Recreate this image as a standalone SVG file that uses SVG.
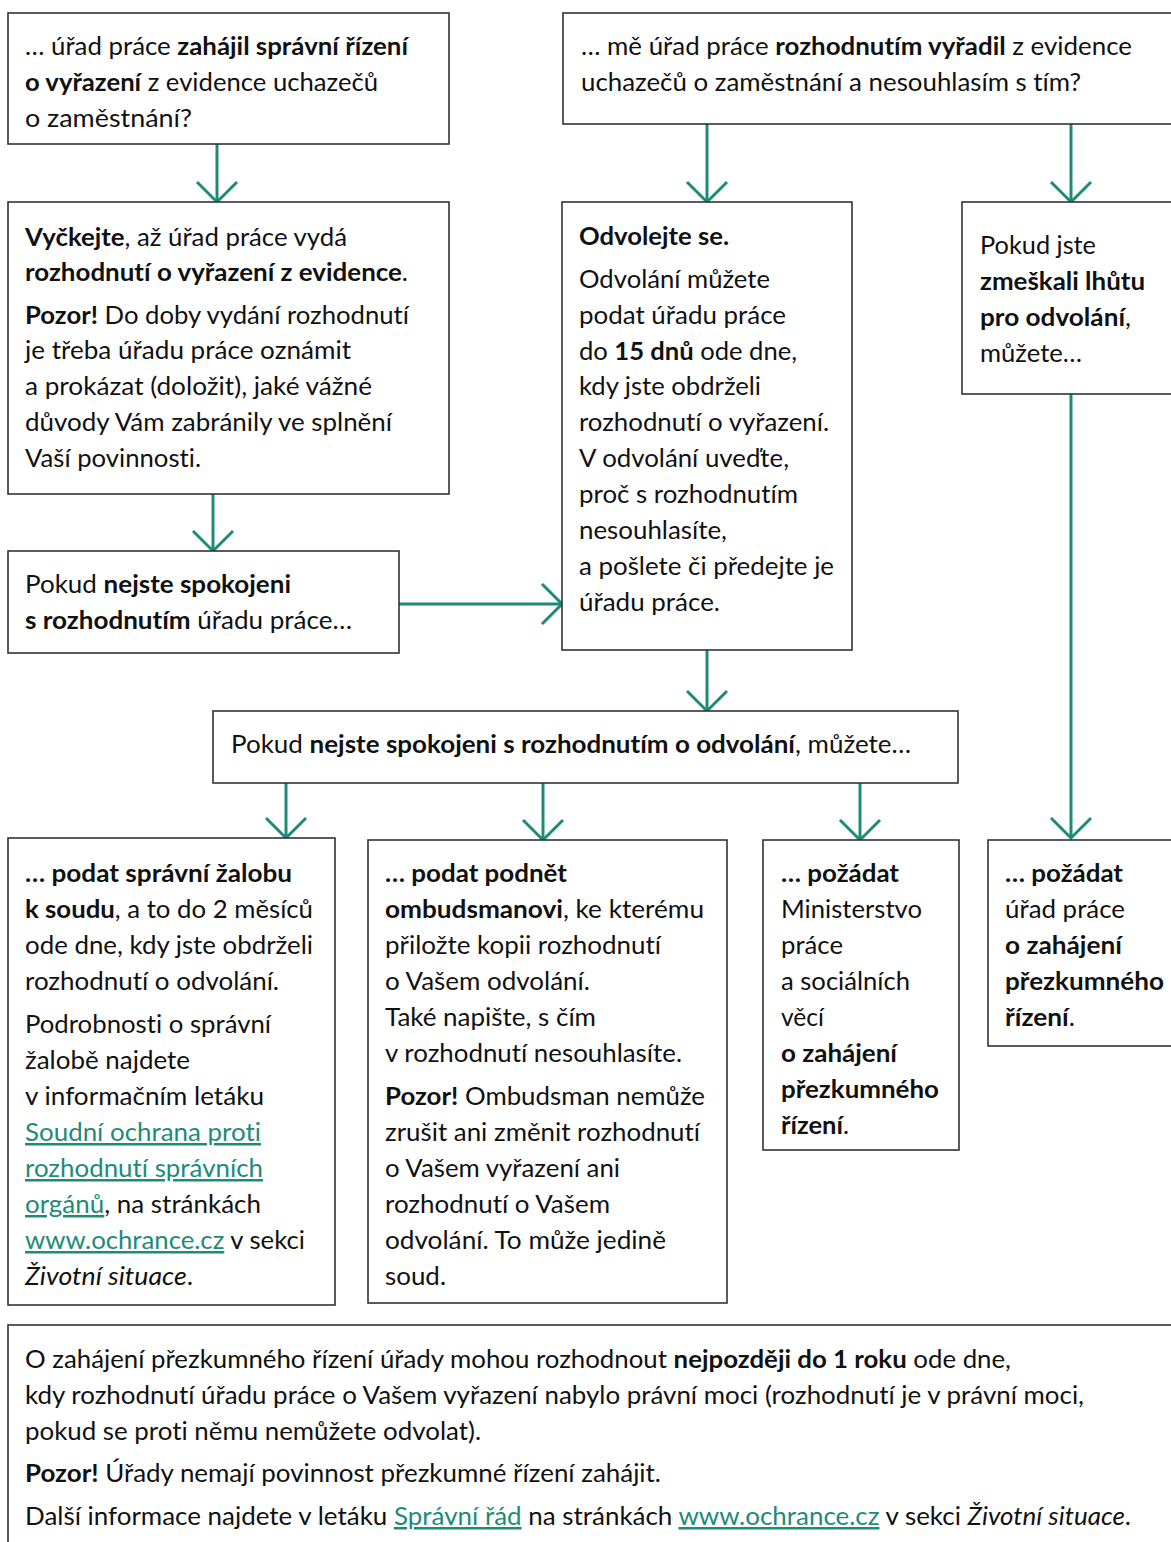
<svg xmlns="http://www.w3.org/2000/svg" width="1171" height="1542" viewBox="0 0 1171 1542">
<style>
.t{font-family:Lato,"Open Sans","Liberation Sans",sans-serif;font-size:25px;fill:#111;font-variant-ligatures:none}
.b{font-weight:bold}
.i{font-style:italic}
.l{fill:#1d8b78;text-decoration:underline}
.box{fill:#fff;stroke:#333;stroke-width:1.6}
.arr{stroke:#1d8b78;stroke-width:3;fill:none;marker-end:url(#ah)}
</style>
<defs>
<marker id="ah" markerUnits="userSpaceOnUse" viewBox="-24 -24 48 48" markerWidth="48" markerHeight="48" refX="0" refY="0" orient="auto" overflow="visible">
<path d="M-20,-20 L0,0 L-20,20" fill="none" stroke="#1d8b78" stroke-width="3"/>
</marker>
</defs>
<rect width="1171" height="1542" fill="#fff"/>
<g id="connectors">
<line class="arr" x1="217" y1="144" x2="217" y2="202"/>
<line class="arr" x1="707" y1="124" x2="707" y2="202"/>
<line class="arr" x1="1071" y1="124" x2="1071" y2="202"/>
<line class="arr" x1="213" y1="494" x2="213" y2="551"/>
<line class="arr" x1="399" y1="604" x2="562" y2="604"/>
<line class="arr" x1="707" y1="650" x2="707" y2="711"/>
<line class="arr" x1="1071" y1="394" x2="1071" y2="838"/>
<line class="arr" x1="286" y1="783" x2="286" y2="838"/>
<line class="arr" x1="543" y1="783" x2="543" y2="840"/>
<line class="arr" x1="860" y1="783" x2="860" y2="840"/>
</g>
<g id="n1">
<rect class="box" x="8" y="13" width="441" height="131"/>
<text class="t" x="25" y="55" textLength="383" lengthAdjust="spacingAndGlyphs">… úřad práce <tspan class="b">zahájil správní řízení</tspan></text>
<text class="t" x="25" y="91" textLength="353" lengthAdjust="spacingAndGlyphs"><tspan class="b">o vyřazení</tspan> z evidence uchazečů</text>
<text class="t" x="25" y="127" textLength="167" lengthAdjust="spacingAndGlyphs">o zaměstnání?</text>
</g>
<g id="n2">
<rect class="box" x="563" y="13" width="700" height="111"/>
<text class="t" x="581" y="55" textLength="551" lengthAdjust="spacingAndGlyphs">… mě úřad práce <tspan class="b">rozhodnutím vyřadil</tspan> z evidence</text>
<text class="t" x="581" y="91" textLength="500" lengthAdjust="spacingAndGlyphs">uchazečů o zaměstnání a nesouhlasím s tím?</text>
</g>
<g id="n3">
<rect class="box" x="8" y="202" width="441" height="292"/>
<text class="t" x="25" y="246" textLength="322" lengthAdjust="spacingAndGlyphs"><tspan class="b">Vyčkejte</tspan>, až úřad práce vydá</text>
<text class="t" x="25" y="281" textLength="383" lengthAdjust="spacingAndGlyphs"><tspan class="b">rozhodnutí o vyřazení z evidence</tspan>.</text>
<text class="t" x="25" y="324" textLength="384" lengthAdjust="spacingAndGlyphs"><tspan class="b">Pozor!</tspan> Do doby vydání rozhodnutí</text>
<text class="t" x="25" y="359" textLength="326" lengthAdjust="spacingAndGlyphs">je třeba úřadu práce oznámit</text>
<text class="t" x="25" y="395" textLength="347" lengthAdjust="spacingAndGlyphs">a prokázat (doložit), jaké vážné</text>
<text class="t" x="25" y="431" textLength="367" lengthAdjust="spacingAndGlyphs">důvody Vám zabránily ve splnění</text>
<text class="t" x="25" y="467" textLength="176" lengthAdjust="spacingAndGlyphs">Vaší povinnosti.</text>
</g>
<g id="n4">
<rect class="box" x="562" y="202" width="290" height="448"/>
<text class="t" x="579" y="245" textLength="150" lengthAdjust="spacingAndGlyphs"><tspan class="b">Odvolejte se.</tspan></text>
<text class="t" x="579" y="288" textLength="191" lengthAdjust="spacingAndGlyphs">Odvolání můžete</text>
<text class="t" x="579" y="324" textLength="207" lengthAdjust="spacingAndGlyphs">podat úřadu práce</text>
<text class="t" x="579" y="360" textLength="218" lengthAdjust="spacingAndGlyphs">do <tspan class="b">15 dnů</tspan> ode dne,</text>
<text class="t" x="579" y="395" textLength="182" lengthAdjust="spacingAndGlyphs">kdy jste obdrželi</text>
<text class="t" x="579" y="431" textLength="250" lengthAdjust="spacingAndGlyphs">rozhodnutí o vyřazení.</text>
<text class="t" x="579" y="467" textLength="210" lengthAdjust="spacingAndGlyphs">V odvolání uveďte,</text>
<text class="t" x="579" y="503" textLength="219" lengthAdjust="spacingAndGlyphs">proč s rozhodnutím</text>
<text class="t" x="579" y="539" textLength="148" lengthAdjust="spacingAndGlyphs">nesouhlasíte,</text>
<text class="t" x="579" y="575" textLength="255" lengthAdjust="spacingAndGlyphs">a pošlete či předejte je</text>
<text class="t" x="579" y="611" textLength="141" lengthAdjust="spacingAndGlyphs">úřadu práce.</text>
</g>
<g id="n5">
<rect class="box" x="962" y="202" width="300" height="192"/>
<text class="t" x="980" y="254" textLength="116" lengthAdjust="spacingAndGlyphs">Pokud jste</text>
<text class="t" x="980" y="290" textLength="165" lengthAdjust="spacingAndGlyphs"><tspan class="b">zmeškali lhůtu</tspan></text>
<text class="t" x="980" y="326" textLength="151" lengthAdjust="spacingAndGlyphs"><tspan class="b">pro odvolání</tspan>,</text>
<text class="t" x="980" y="362" textLength="102" lengthAdjust="spacingAndGlyphs">můžete…</text>
</g>
<g id="n6">
<rect class="box" x="8" y="551" width="391" height="102"/>
<text class="t" x="25" y="593" textLength="266" lengthAdjust="spacingAndGlyphs">Pokud <tspan class="b">nejste spokojeni</tspan></text>
<text class="t" x="25" y="629" textLength="327" lengthAdjust="spacingAndGlyphs"><tspan class="b">s rozhodnutím</tspan> úřadu práce…</text>
</g>
<g id="n7">
<rect class="box" x="213" y="711" width="745" height="72"/>
<text class="t" x="231" y="753" textLength="680" lengthAdjust="spacingAndGlyphs">Pokud <tspan class="b">nejste spokojeni s rozhodnutím o odvolání</tspan>, můžete…</text>
</g>
<g id="n8">
<rect class="box" x="8" y="838" width="327" height="467"/>
<text class="t" x="25" y="882" textLength="267" lengthAdjust="spacingAndGlyphs"><tspan class="b">… podat správní žalobu</tspan></text>
<text class="t" x="25" y="918" textLength="288" lengthAdjust="spacingAndGlyphs"><tspan class="b">k soudu</tspan>, a to do 2 měsíců</text>
<text class="t" x="25" y="954" textLength="288" lengthAdjust="spacingAndGlyphs">ode dne, kdy jste obdrželi</text>
<text class="t" x="25" y="990" textLength="254" lengthAdjust="spacingAndGlyphs">rozhodnutí o odvolání.</text>
<text class="t" x="25" y="1033" textLength="246" lengthAdjust="spacingAndGlyphs">Podrobnosti o správní</text>
<text class="t" x="25" y="1069" textLength="165" lengthAdjust="spacingAndGlyphs">žalobě najdete</text>
<text class="t" x="25" y="1105" textLength="239" lengthAdjust="spacingAndGlyphs">v informačním letáku</text>
<text class="t" x="25" y="1141" textLength="236" lengthAdjust="spacingAndGlyphs"><tspan class="l">Soudní ochrana proti</tspan></text>
<text class="t" x="25" y="1177" textLength="238" lengthAdjust="spacingAndGlyphs"><tspan class="l">rozhodnutí správních</tspan></text>
<text class="t" x="25" y="1213" textLength="236" lengthAdjust="spacingAndGlyphs"><tspan class="l">orgánů</tspan>, na stránkách</text>
<text class="t" x="25" y="1249" textLength="280" lengthAdjust="spacingAndGlyphs"><tspan class="l">www.ochrance.cz</tspan> v sekci</text>
<text class="t" x="25" y="1285" textLength="168" lengthAdjust="spacingAndGlyphs"><tspan class="i">Životní situace</tspan>.</text>
</g>
<g id="n9">
<rect class="box" x="368" y="840" width="359" height="463"/>
<text class="t" x="385" y="882" textLength="182" lengthAdjust="spacingAndGlyphs"><tspan class="b">… podat podnět</tspan></text>
<text class="t" x="385" y="918" textLength="319" lengthAdjust="spacingAndGlyphs"><tspan class="b">ombudsmanovi</tspan>, ke kterému</text>
<text class="t" x="385" y="954" textLength="276" lengthAdjust="spacingAndGlyphs">přiložte kopii rozhodnutí</text>
<text class="t" x="385" y="990" textLength="205" lengthAdjust="spacingAndGlyphs">o Vašem odvolání.</text>
<text class="t" x="385" y="1026" textLength="211" lengthAdjust="spacingAndGlyphs">Také napište, s čím</text>
<text class="t" x="385" y="1062" textLength="297" lengthAdjust="spacingAndGlyphs">v rozhodnutí nesouhlasíte.</text>
<text class="t" x="385" y="1105" textLength="320" lengthAdjust="spacingAndGlyphs"><tspan class="b">Pozor!</tspan> Ombudsman nemůže</text>
<text class="t" x="385" y="1141" textLength="315" lengthAdjust="spacingAndGlyphs">zrušit ani změnit rozhodnutí</text>
<text class="t" x="385" y="1177" textLength="235" lengthAdjust="spacingAndGlyphs">o Vašem vyřazení ani</text>
<text class="t" x="385" y="1213" textLength="225" lengthAdjust="spacingAndGlyphs">rozhodnutí o Vašem</text>
<text class="t" x="385" y="1249" textLength="281" lengthAdjust="spacingAndGlyphs">odvolání. To může jedině</text>
<text class="t" x="385" y="1285" textLength="61" lengthAdjust="spacingAndGlyphs">soud.</text>
</g>
<g id="n10">
<rect class="box" x="763" y="840" width="196" height="310"/>
<text class="t" x="781" y="882" textLength="118" lengthAdjust="spacingAndGlyphs"><tspan class="b">… požádat</tspan></text>
<text class="t" x="781" y="918" textLength="141" lengthAdjust="spacingAndGlyphs">Ministerstvo</text>
<text class="t" x="781" y="954" textLength="62" lengthAdjust="spacingAndGlyphs">práce</text>
<text class="t" x="781" y="990" textLength="129" lengthAdjust="spacingAndGlyphs">a sociálních</text>
<text class="t" x="781" y="1026" textLength="43" lengthAdjust="spacingAndGlyphs">věcí</text>
<text class="t" x="781" y="1062" textLength="116" lengthAdjust="spacingAndGlyphs"><tspan class="b">o zahájení</tspan></text>
<text class="t" x="781" y="1098" textLength="158" lengthAdjust="spacingAndGlyphs"><tspan class="b">přezkumného</tspan></text>
<text class="t" x="781" y="1134" textLength="68" lengthAdjust="spacingAndGlyphs"><tspan class="b">řízení</tspan>.</text>
</g>
<g id="n11">
<rect class="box" x="988" y="840" width="300" height="206"/>
<text class="t" x="1005" y="882" textLength="118" lengthAdjust="spacingAndGlyphs"><tspan class="b">… požádat</tspan></text>
<text class="t" x="1005" y="918" textLength="120" lengthAdjust="spacingAndGlyphs">úřad práce</text>
<text class="t" x="1005" y="954" textLength="117" lengthAdjust="spacingAndGlyphs"><tspan class="b">o zahájení</tspan></text>
<text class="t" x="1005" y="990" textLength="159" lengthAdjust="spacingAndGlyphs"><tspan class="b">přezkumného</tspan></text>
<text class="t" x="1005" y="1026" textLength="70" lengthAdjust="spacingAndGlyphs"><tspan class="b">řízení</tspan>.</text>
</g>
<g id="n12">
<rect class="box" x="8" y="1325" width="1200" height="300"/>
<text class="t" x="25" y="1368" textLength="986" lengthAdjust="spacingAndGlyphs">O zahájení přezkumného řízení úřady mohou rozhodnout <tspan class="b">nejpozději do 1 roku</tspan> ode dne,</text>
<text class="t" x="25" y="1404" textLength="1059" lengthAdjust="spacingAndGlyphs">kdy rozhodnutí úřadu práce o Vašem vyřazení nabylo právní moci (rozhodnutí je v právní moci,</text>
<text class="t" x="25" y="1440" textLength="456" lengthAdjust="spacingAndGlyphs">pokud se proti němu nemůžete odvolat).</text>
<text class="t" x="25" y="1482" textLength="636" lengthAdjust="spacingAndGlyphs"><tspan class="b">Pozor!</tspan> Úřady nemají povinnost přezkumné řízení zahájit.</text>
<text class="t" x="25" y="1525" textLength="1106" lengthAdjust="spacingAndGlyphs">Další informace najdete v letáku <tspan class="l">Správní řád</tspan> na stránkách <tspan class="l">www.ochrance.cz</tspan> v sekci <tspan class="i">Životní situace</tspan>.</text>
</g>
</svg>
